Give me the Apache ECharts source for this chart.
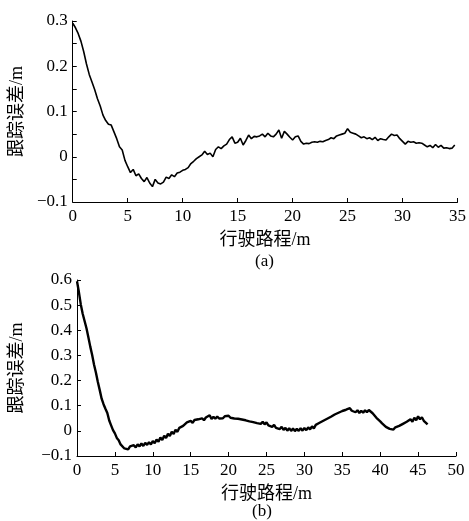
<!DOCTYPE html>
<html>
<head>
<meta charset="utf-8">
<script src="https://cdn.jsdelivr.net/npm/echarts@6/dist/echarts.min.js"></script>
<style>
  html, body { margin: 0; padding: 0; background: #fff; }
  #chart { width: 469px; height: 521px; }
</style>
</head>
<body>
<div id="chart"></div>
<script>
// 行驶路程采样步长 (m)
var stepA = 0.25
var stepB = 0.25

// (a) 跟踪误差 (m)
var errA = [
  0.295, 0.285, 0.272, 0.255, 0.232, 0.205, 0.182, 0.165, 0.148, 0.128,
  0.112, 0.092, 0.080, 0.072, 0.070, 0.055, 0.040, 0.022, 0.015, -0.008,
  -0.022, -0.035, -0.028, -0.042, -0.038, -0.048, -0.055, -0.046, -0.058, -0.066,
  -0.050, -0.058, -0.060, -0.056, -0.045, -0.048, -0.040, -0.044, -0.036, -0.034,
  -0.030, -0.028, -0.024, -0.015, -0.010, -0.004, 0.000, 0.004, 0.012, 0.005,
  0.008, 0.000, 0.016, 0.022, 0.018, 0.024, 0.028, 0.038, 0.044, 0.030,
  0.032, 0.041, 0.026, 0.036, 0.048, 0.040, 0.045, 0.044, 0.046, 0.050,
  0.044, 0.052, 0.046, 0.044, 0.050, 0.059, 0.041, 0.056, 0.050, 0.043,
  0.037, 0.044, 0.046, 0.034, 0.028, 0.030, 0.029, 0.032, 0.033, 0.032,
  0.034, 0.033, 0.036, 0.038, 0.042, 0.040, 0.046, 0.048, 0.050, 0.052,
  0.062, 0.054, 0.052, 0.050, 0.046, 0.042, 0.044, 0.040, 0.042, 0.038,
  0.043, 0.036, 0.040, 0.038, 0.037, 0.044, 0.050, 0.047, 0.048, 0.040,
  0.034, 0.028, 0.034, 0.032, 0.033, 0.030, 0.031, 0.030, 0.026, 0.022,
  0.025, 0.020, 0.027, 0.021, 0.025, 0.019, 0.020, 0.018, 0.019, 0.026
]

// (b) 跟踪误差 (m)
var errB = [
  0.595, 0.552, 0.503, 0.466, 0.437, 0.408, 0.372, 0.335, 0.302, 0.263,
  0.231, 0.194, 0.162, 0.128, 0.106, 0.088, 0.071, 0.041, 0.022, 0.003,
  -0.010, -0.028, -0.037, -0.054, -0.055, -0.070, -0.064, -0.074, -0.062, -0.069,
  -0.057, -0.066, -0.054, -0.062, -0.050, -0.060, -0.048, -0.056, -0.045, -0.054,
  -0.041, -0.049, -0.035, -0.043, -0.026, -0.036, -0.020, -0.028, -0.012, -0.020,
  -0.004, -0.012, 0.004, -0.004, 0.012, 0.006, 0.020, 0.018, 0.034, 0.028,
  0.040, 0.032, 0.043, 0.036, 0.046, 0.039, 0.050, 0.042, 0.053, 0.046,
  0.062, 0.047, 0.056, 0.048, 0.057, 0.049, 0.056, 0.050, 0.058, 0.051,
  0.060, 0.052, 0.058, 0.049, 0.056, 0.048, 0.054, 0.045, 0.052, 0.042,
  0.049, 0.038, 0.045, 0.035, 0.040, 0.031, 0.038, 0.028, 0.036, 0.026,
  0.034, 0.022, 0.028, 0.016, 0.024, 0.012, 0.019, 0.007, 0.016, 0.004,
  0.012, 0.001, 0.010, 0.000, 0.009, -0.001, 0.008, 0.000, 0.010, 0.001,
  0.011, 0.003, 0.014, 0.006, 0.018, 0.010, 0.024, 0.018, 0.032, 0.026,
  0.040, 0.034, 0.048, 0.042, 0.056, 0.051, 0.065, 0.058, 0.072, 0.066,
  0.079, 0.072, 0.084, 0.077, 0.090, 0.080, 0.087, 0.074, 0.082, 0.071,
  0.080, 0.072, 0.082, 0.074, 0.083, 0.078, 0.070, 0.064, 0.052, 0.046,
  0.038, 0.030, 0.024, 0.016, 0.016, 0.008, 0.012, 0.005, 0.014, 0.010,
  0.020, 0.016, 0.028, 0.022, 0.036, 0.030, 0.046, 0.036, 0.052, 0.042,
  0.058, 0.046, 0.054, 0.040, 0.044, 0.026
]

var xName = '行驶路程/m'
var yName = '跟踪误差/m'
var panelLabels = ['(a)', '(b)']

var numFont = '"Liberation Serif", "DejaVu Serif", serif'
var cjkFont = '"Liberation Serif", "Noto Sans CJK SC", serif'

var dataA = errA.map(function (v, i) { return [i * stepA, v] })
var dataB = errB.map(function (v, i) { return [i * stepB, v] })

function fmtY (v) {
  if (Math.abs(v) < 1e-9) return '0'
  return v.toFixed(1).replace('-', '\u2212')
}

function xAxisOpt (gridIndex, max) {
  return {
    type: 'value',
    gridIndex: gridIndex,
    min: 0,
    max: max,
    interval: 5,
    name: xName,
    nameLocation: 'middle',
    nameGap: 29,
    nameTextStyle: { color: '#000', fontSize: 18, fontFamily: cjkFont },
    axisLine: { show: true, onZero: false, lineStyle: { color: '#000', width: 1 } },
    axisTick: { show: true, inside: true, length: 4, lineStyle: { color: '#000' } },
    axisLabel: { color: '#000', fontSize: 17, fontFamily: numFont, margin: 6 },
    splitLine: { show: false }
  }
}

function yAxisOpt (gridIndex, min, max, minor, gap) {
  return {
    type: 'value',
    gridIndex: gridIndex,
    min: min,
    max: max,
    interval: 0.1,
    name: yName,
    nameLocation: 'middle',
    nameRotate: 90,
    nameGap: gap,
    nameTextStyle: { color: '#000', fontSize: 18, fontFamily: cjkFont },
    axisLine: { show: true, onZero: false, lineStyle: { color: '#000', width: 1 } },
    axisTick: { show: true, inside: true, length: 4, lineStyle: { color: '#000' } },
    minorTick: { show: minor, splitNumber: 2, length: 4, lineStyle: { color: '#000' } },
    axisLabel: { color: '#000', fontSize: 17, fontFamily: numFont, margin: 5, formatter: fmtY },
    splitLine: { show: false }
  }
}

var myChart = echarts.init(document.getElementById('chart'), null, { renderer: 'canvas' })

var option = {
  backgroundColor: '#fff',
  animation: false,
  grid: [
    { left: 72, top: 21, width: 388, height: 181 },
    { left: 75, top: 280, width: 381, height: 176 }
  ],
  xAxis: [xAxisOpt(0, 35), xAxisOpt(1, 50)],
  yAxis: [yAxisOpt(0, -0.1, 0.3, true, 41), yAxisOpt(1, -0.1, 0.6, false, 51)],
  graphic: [
    {
      type: 'text', left: 255, top: 253,
      style: { text: panelLabels[0], fill: '#000', font: '17px ' + numFont }
    },
    {
      type: 'text', left: 252, top: 503,
      style: { text: panelLabels[1], fill: '#000', font: '17px ' + numFont }
    }
  ],
  series: [
    {
      type: 'line',
      xAxisIndex: 0,
      yAxisIndex: 0,
      data: dataA,
      showSymbol: false,
      lineStyle: { color: '#000', width: 1.6 }
    },
    {
      type: 'line',
      xAxisIndex: 1,
      yAxisIndex: 1,
      data: dataB,
      showSymbol: false,
      lineStyle: { color: '#000', width: 2.4 }
    }
  ]
}

myChart.setOption(option)
</script>
</body>
</html>
